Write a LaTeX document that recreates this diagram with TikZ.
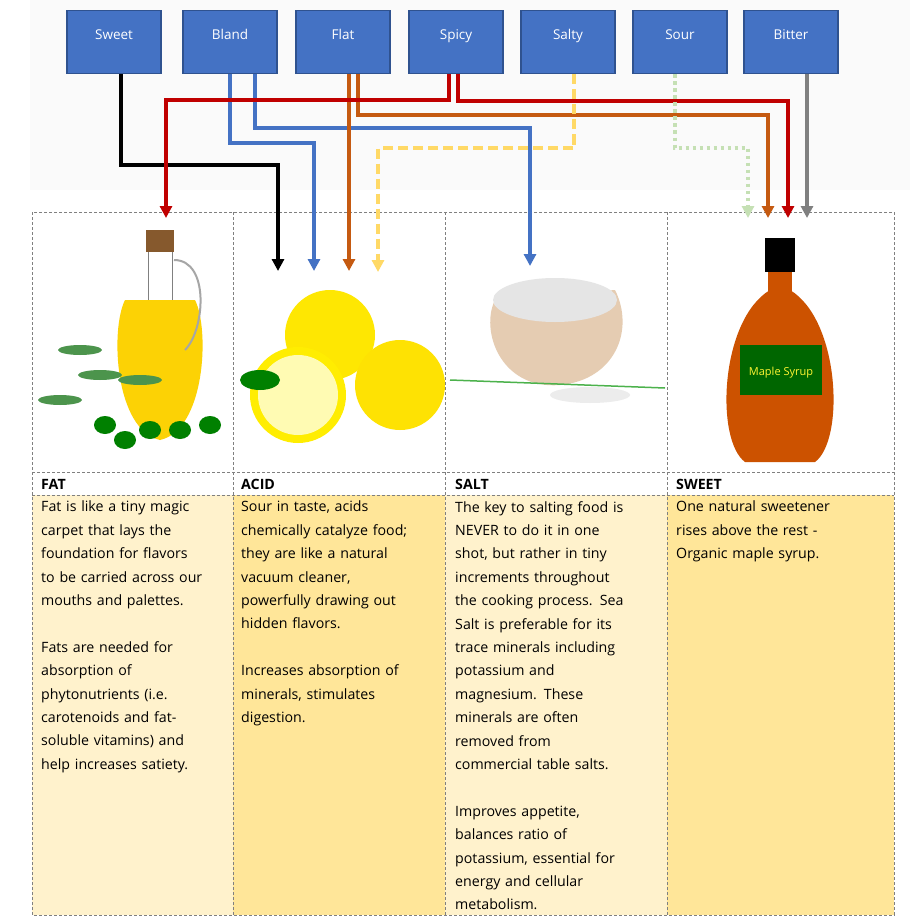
\documentclass[tikz,border=0pt]{standalone}
\usepackage{fontspec}
\setmainfont{Open Sans}
\usetikzlibrary{arrows.meta,shapes.geometric}
\definecolor{boxb}{HTML}{4472C4}
\definecolor{boxd}{HTML}{2F528F}
\definecolor{cred}{HTML}{C00000}
\definecolor{corg}{HTML}{C55A11}
\definecolor{cyel}{HTML}{FFD966}
\definecolor{cgrn}{HTML}{C5E0B4}
\definecolor{light}{HTML}{FFF2CC}
\definecolor{mid}{HTML}{FFE699}
\begin{document}
\begin{tikzpicture}[x=1pt,y=-1pt,
 box/.style={draw=boxd,line width=1.5pt,fill=boxb,minimum width=94pt,minimum height=63pt,text=white,font=\fontsize{13.5}{15}\selectfont,anchor=north,text depth=16pt,inner sep=0pt},
 con/.style={line width=3.5pt,-{Triangle[width=12pt,length=12pt]}},
 body/.style={anchor=north west,align=left,font=\fontsize{14.2}{23.4}\selectfont,inner sep=0pt,text width=210pt},
 head/.style={anchor=west,font=\bfseries\fontsize{14.2}{16}\selectfont,inner sep=0pt},
 cell/.style={draw=gray,densely dashed,line width=0.6pt}]
\useasboundingbox (0,0) rectangle (922,923);
\fill[white] (0,0) rectangle (922,923);
\fill[black!2] (30,0) rectangle (910,190);
% table
\fill[light] (32,495) rectangle (233,915);
\fill[mid] (233,495) rectangle (445,915);
\fill[light] (445,495) rectangle (667,915);
\fill[mid] (667,495) rectangle (894,915);
\draw[cell] (32,212) rectangle (894,915);
\draw[cell] (32,472) -- (894,472) (32,495) -- (894,495);
\foreach \x in {233,445,667} \draw[cell] (\x,212) -- (\x,915);
% boxes
\node[box] (sweet) at (114,10) {Sweet};
\node[box] (bland) at (230,10) {Bland};
\node[box] (flat) at (343,10) {Flat};
\node[box] (spicy) at (456,10) {Spicy};
\node[box] (salty) at (568,10) {Salty};
\node[box] (sour) at (680,10) {Sour};
\node[box] (bitter) at (791,10) {Bitter};
% targets
\coordinate (fat1) at (166,218);
\coordinate (acid1) at (278,271);
\coordinate (acid2) at (314,271);
\coordinate (acid3) at (349,271);
\coordinate (acid4) at (378,272);
\coordinate (salt1) at (530,266);
\coordinate (sw1) at (748,218);
\coordinate (sw2) at (768,218);
\coordinate (sw3) at (788,218);
\coordinate (sw4) at (807,218);
% connectors
\draw[con,black] ([xshift=7pt]sweet.south) |- (278,165) -- (acid1);
\draw[con,boxb] (bland.south) |- (314,143) -- (acid2);
\draw[con,boxb] ([xshift=25pt]bland.south) |- (530,128) -- (salt1);
\draw[con,corg] ([xshift=6pt]flat.south) -- (acid3);
\draw[con,corg] ([xshift=15pt]flat.south) |- (768,115) -- (sw2);
\draw[con,cred] ([xshift=-7pt]spicy.south) |- (166,100) -- (fat1);
\draw[con,cred] ([xshift=2pt]spicy.south) |- (788,101) -- (sw3);
\draw[con,cyel,dash pattern=on 10pt off 5pt] ([xshift=6pt]salty.south) |- (378,148) -- (acid4);
\draw[con,cgrn,dash pattern=on 3.5pt off 3.5pt] ([xshift=-5pt]sour.south) |- (748,148) -- (sw1);
\draw[con,gray] ([xshift=16pt]bitter.south) -- (sw4);
% ---- oil bottle
\fill[yellow!70!orange] (125,300) .. controls (110,330) and (115,430) .. (160,440) .. controls (205,430) and (210,330) .. (195,300) -- cycle;
\draw[gray,line width=1pt] (148,250) -- (148,300) (172,250) -- (172,300);
\fill[brown!70!black] (146,230) rectangle (174,252);
\draw[gray!70,line width=2pt] (174,260) .. controls (210,260) and (205,330) .. (185,350);
\foreach \p in {(105,425),(125,440),(150,430),(180,430),(210,425)} \fill[green!50!black] \p ellipse (11pt and 9pt);
\foreach \p in {(80,350),(100,375),(140,380),(60,400)} \fill[green!40!black!70] \p ellipse (22pt and 5pt);
% ---- lemons
\fill[yellow!90!orange] (330,335) circle (45pt);
\fill[yellow!85!orange] (400,385) circle (45pt);
\fill[yellow!95!orange] (298,395) circle (48pt);
\fill[yellow!30] (298,395) circle (40pt);
\fill[green!50!black] (260,380) ellipse (20pt and 10pt);
% ---- salt bowl
\fill[brown!40] (495,300) .. controls (480,330) and (500,390) .. (560,385) .. controls (615,380) and (635,330) .. (615,290) -- cycle;
\fill[gray!20] (555,300) ellipse (62pt and 22pt);
\fill[gray!15] (590,395) ellipse (40pt and 8pt);
\draw[green!40!gray,line width=1.5pt] (450,380) -- (665,388);
% ---- syrup bottle
\fill[orange!80!red!80!black] (770,290) .. controls (720,320) and (715,440) .. (745,462) -- (815,462) .. controls (845,440) and (840,320) .. (790,290) -- cycle;
\fill[black] (765,238) rectangle (795,272);
\fill[orange!80!red!80!black] (768,272) rectangle (792,292);
\fill[green!40!black] (740,345) rectangle (822,395);
\node[text=yellow!80,font=\fontsize{11}{12}\selectfont,inner sep=0pt] (syrupl) at (781,373) {Maple Syrup};
% ---- headers
\node[head] (hfat) at (41,484) {FAT};
\node[head] (hacid) at (241,484) {ACID};
\node[head] (hsalt) at (455,484) {SALT};
\node[head] (hsweet) at (676,484) {SWEET};
\node[body] (tfat) at (41,501) {Fat is like a tiny magic\\carpet that lays the\\foundation for flavors\\to be carried across our\\mouths and palettes.\\[23.4pt]Fats are needed for\\absorption of\\phytonutrients (i.e.\\carotenoids and fat-\\soluble vitamins) and\\help increases satiety.};
\node[body] (tacid) at (241,501) {Sour in taste, acids\\chemically catalyze food;\\they are like a natural\\vacuum cleaner,\\powerfully drawing out\\hidden flavors.\\[23.4pt]Increases absorption of\\minerals, stimulates\\digestion.};
\node[body] (tsalt) at (455,501) {The key to salting food is\\NEVER to do it in one\\shot, but rather in tiny\\increments throughout\\the cooking process. Sea\\Salt is preferable for its\\trace minerals including\\potassium and\\magnesium. These\\minerals are often\\removed from\\commercial table salts.\\[23.4pt]Improves appetite,\\balances ratio of\\potassium, essential for\\energy and cellular\\metabolism.};
\node[body] (tsweet) at (676,501) {One natural sweetener\\rises above the rest -\\Organic maple syrup.};
\end{tikzpicture}
\end{document}
